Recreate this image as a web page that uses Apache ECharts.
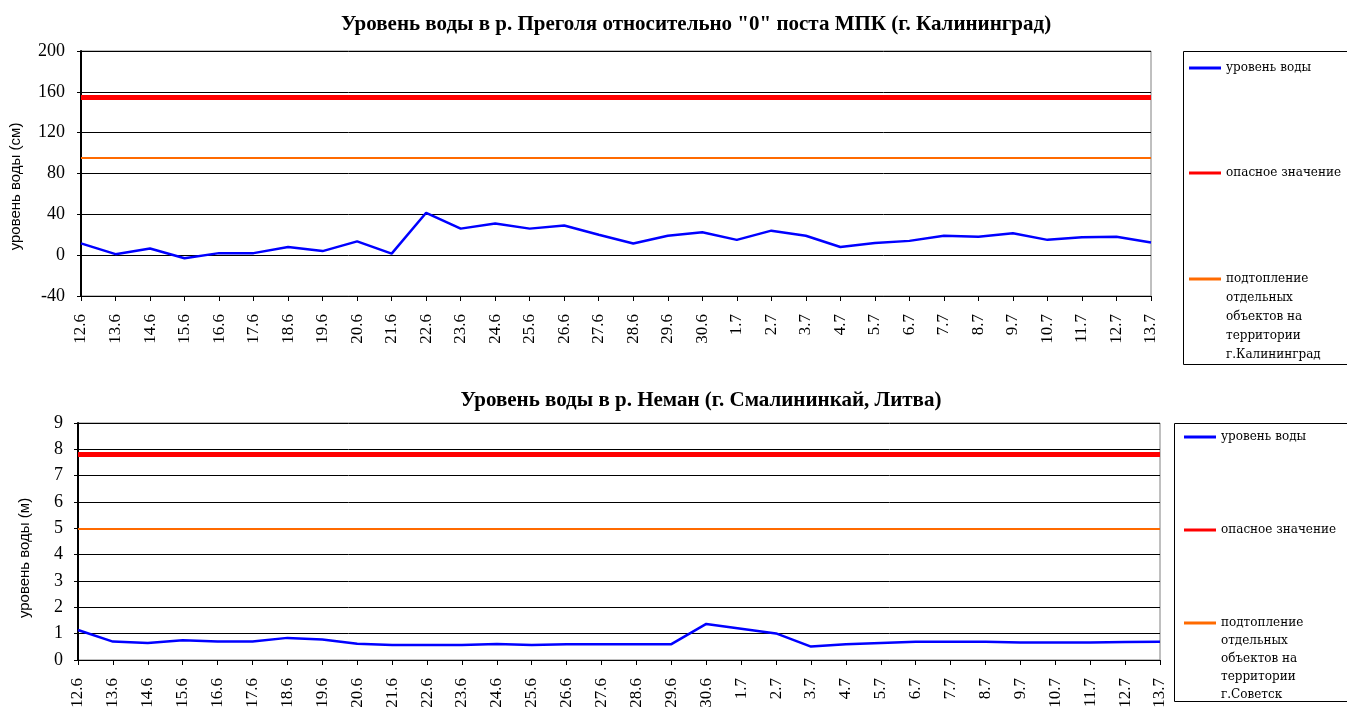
<!DOCTYPE html>
<html><head><meta charset="utf-8">
<script src="https://cdn.jsdelivr.net/npm/echarts@6/dist/echarts.min.js"></script>
<style>html,body{margin:0;padding:0;background:#fff}#c{width:1347px;height:707px}</style>
</head><body><div id="c"></div>
<script>
const categories = ['12.6','13.6','14.6','15.6','16.6','17.6','18.6','19.6','20.6','21.6','22.6','23.6','24.6','25.6','26.6','27.6','28.6','29.6','30.6','1.7','2.7','3.7','4.7','5.7','6.7','7.7','8.7','9.7','10.7','11.7','12.7','13.7'];
const pregolyaLevel = [11.5, 1, 6.5, -3, 2, 2, 8, 4, 13.5, 1.5, 41.5, 26, 31, 26, 29, 20, 11.5, 19, 22.5, 15, 24, 19, 8, 12, 14, 19, 18, 21.5, 15, 17.5, 18, 12.5];
const pregolyaDanger = 155;
const pregolyaFlood = 95;
const nemanLevel = [1.14, 0.70, 0.65, 0.75, 0.70, 0.70, 0.84, 0.78, 0.62, 0.57, 0.57, 0.57, 0.61, 0.57, 0.60, 0.60, 0.60, 0.60, 1.37, 1.19, 1.01, 0.51, 0.60, 0.65, 0.69, 0.69, 0.69, 0.66, 0.66, 0.66, 0.68, 0.69];
const nemanDanger = 7.8;
const nemanFlood = 5;
const titles = ['Уровень воды в р. Преголя относительно "0" поста МПК (г. Калининград)', 'Уровень воды в р. Неман (г. Смалининкай, Литва)'];
const yNames = ['уровень воды (см)', 'уровень воды (м)'];
const nameLevel = 'уровень воды';
const nameDanger = 'опасное значение';
const nameFloodTop = 'подтопление\nотдельных\nобъектов на\nтерритории\nг.Калининград';
const nameFloodBottom = 'подтопление\nотдельных\nобъектов на\nтерритории\nг.Советск';

const SERIF = '"Liberation Serif", "Times New Roman", serif';
const LEGF = '"DejaVu Serif", serif';
const chart = echarts.init(document.getElementById('c'));

function xAxis(gi) {
  return {
    type: 'category', gridIndex: gi, data: categories, boundaryGap: false,
    axisLine: { onZero: false, lineStyle: { color: '#000', width: 1 } },
    axisTick: { show: true, length: 5, lineStyle: { color: '#000' } },
    axisLabel: { rotate: 90, interval: 0, margin: 18, fontFamily: SERIF, fontSize: 17, color: '#000' },
    splitLine: { show: false }
  };
}
function yAxis(gi, min, max, step, name, pad, margin) {
  return {
    type: 'value', gridIndex: gi, min: min, max: max, interval: step,
    name: name, nameLocation: 'middle', nameGap: gi === 0 ? 58 : 46, nameRotate: 90,
    nameTextStyle: { fontFamily: '"Liberation Sans", Arial, sans-serif', fontSize: 15, color: '#000', padding: [0, pad, 0, 0] },
    axisLine: { show: true, lineStyle: { color: '#000', width: 2 } },
    axisTick: { show: true, length: 4, lineStyle: { color: '#000' } },
    axisLabel: { margin: margin, fontFamily: SERIF, fontSize: 18, color: '#000' },
    splitLine: { show: true, lineStyle: { color: '#000', width: 1 } }
  };
}
function hline(name, color, width, xi, value) {
  return {
    name: name, type: 'line', xAxisIndex: xi, yAxisIndex: xi, data: [],
    lineStyle: { color: color, width: width }, itemStyle: { color: color },
    markLine: { silent: true, symbol: 'none', label: { show: false },
      lineStyle: { color: color, width: width, type: 'solid' }, data: [{ yAxis: value }] }
  };
}
function legend(name, left, iconCenter, lh, extraLines) {
  const lines = extraLines * 2 + 1;
  return { data: [name], orient: 'vertical', left: left, top: iconCenter - lines * lh / 2, padding: 0,
    icon: 'rect', itemWidth: 32, itemHeight: 3, selectedMode: false,
    formatter: extraLines ? (n => '\n'.repeat(extraLines) + n) : undefined,
    textStyle: { fontFamily: LEGF, fontSize: 12, color: '#000', lineHeight: lh } };
}

chart.setOption({
  animation: false,
  title: [
    { text: titles[0], left: 691, top: 9, textAlign: 'center',
      textStyle: { fontFamily: SERIF, fontWeight: 'bold', fontSize: 21, color: '#000' } },
    { text: titles[1], left: 696, top: 385, textAlign: 'center',
      textStyle: { fontFamily: SERIF, fontWeight: 'bold', fontSize: 21, color: '#000' } }
  ],
  grid: [
    { left: 81, right: 196, top: 51, height: 245, show: true, borderColor: '#808080', borderWidth: 1, outerBoundsMode: 'none', containLabel: false },
    { left: 78, right: 187, top: 423, height: 237, show: true, borderColor: '#808080', borderWidth: 1, outerBoundsMode: 'none', containLabel: false }
  ],
  xAxis: [xAxis(0), xAxis(1)],
  yAxis: [yAxis(0, -40, 200, 40, yNames[0], 26, 16), yAxis(1, 0, 9, 1, yNames[1], 33, 15)],
  legend: [
    legend(nameLevel, 1189, 68, 19, 0),
    legend(nameDanger, 1189, 173, 19, 0),
    legend(nameFloodTop, 1189, 279, 19, 4),
    legend(nameLevel, 1184, 437, 18, 0),
    legend(nameDanger, 1184, 530, 18, 0),
    legend(nameFloodBottom, 1184, 623, 18, 4)
  ],
  graphic: [
    { type: 'rect', shape: { x: 1183.5, y: 51.5, width: 200, height: 313 }, style: { fill: 'none', stroke: '#000', lineWidth: 1 } },
    { type: 'rect', shape: { x: 1174.5, y: 423.5, width: 200, height: 278 }, style: { fill: 'none', stroke: '#000', lineWidth: 1 } }
  ],
  series: [
    { name: nameLevel, type: 'line', xAxisIndex: 0, yAxisIndex: 0, data: pregolyaLevel,
      showSymbol: false, symbol: 'none', lineStyle: { color: '#0000ff', width: 2.5 }, itemStyle: { color: '#0000ff' } },
    hline(nameDanger, '#ff0000', 5, 0, pregolyaDanger),
    hline(nameFloodTop, '#ff6a00', 2, 0, pregolyaFlood),
    { name: nameLevel, type: 'line', xAxisIndex: 1, yAxisIndex: 1, data: nemanLevel,
      showSymbol: false, symbol: 'none', lineStyle: { color: '#0000ff', width: 2.5 }, itemStyle: { color: '#0000ff' } },
    hline(nameDanger, '#ff0000', 5, 1, nemanDanger),
    hline(nameFloodBottom, '#ff6a00', 2, 1, nemanFlood)
  ]
});
</script></body></html>
